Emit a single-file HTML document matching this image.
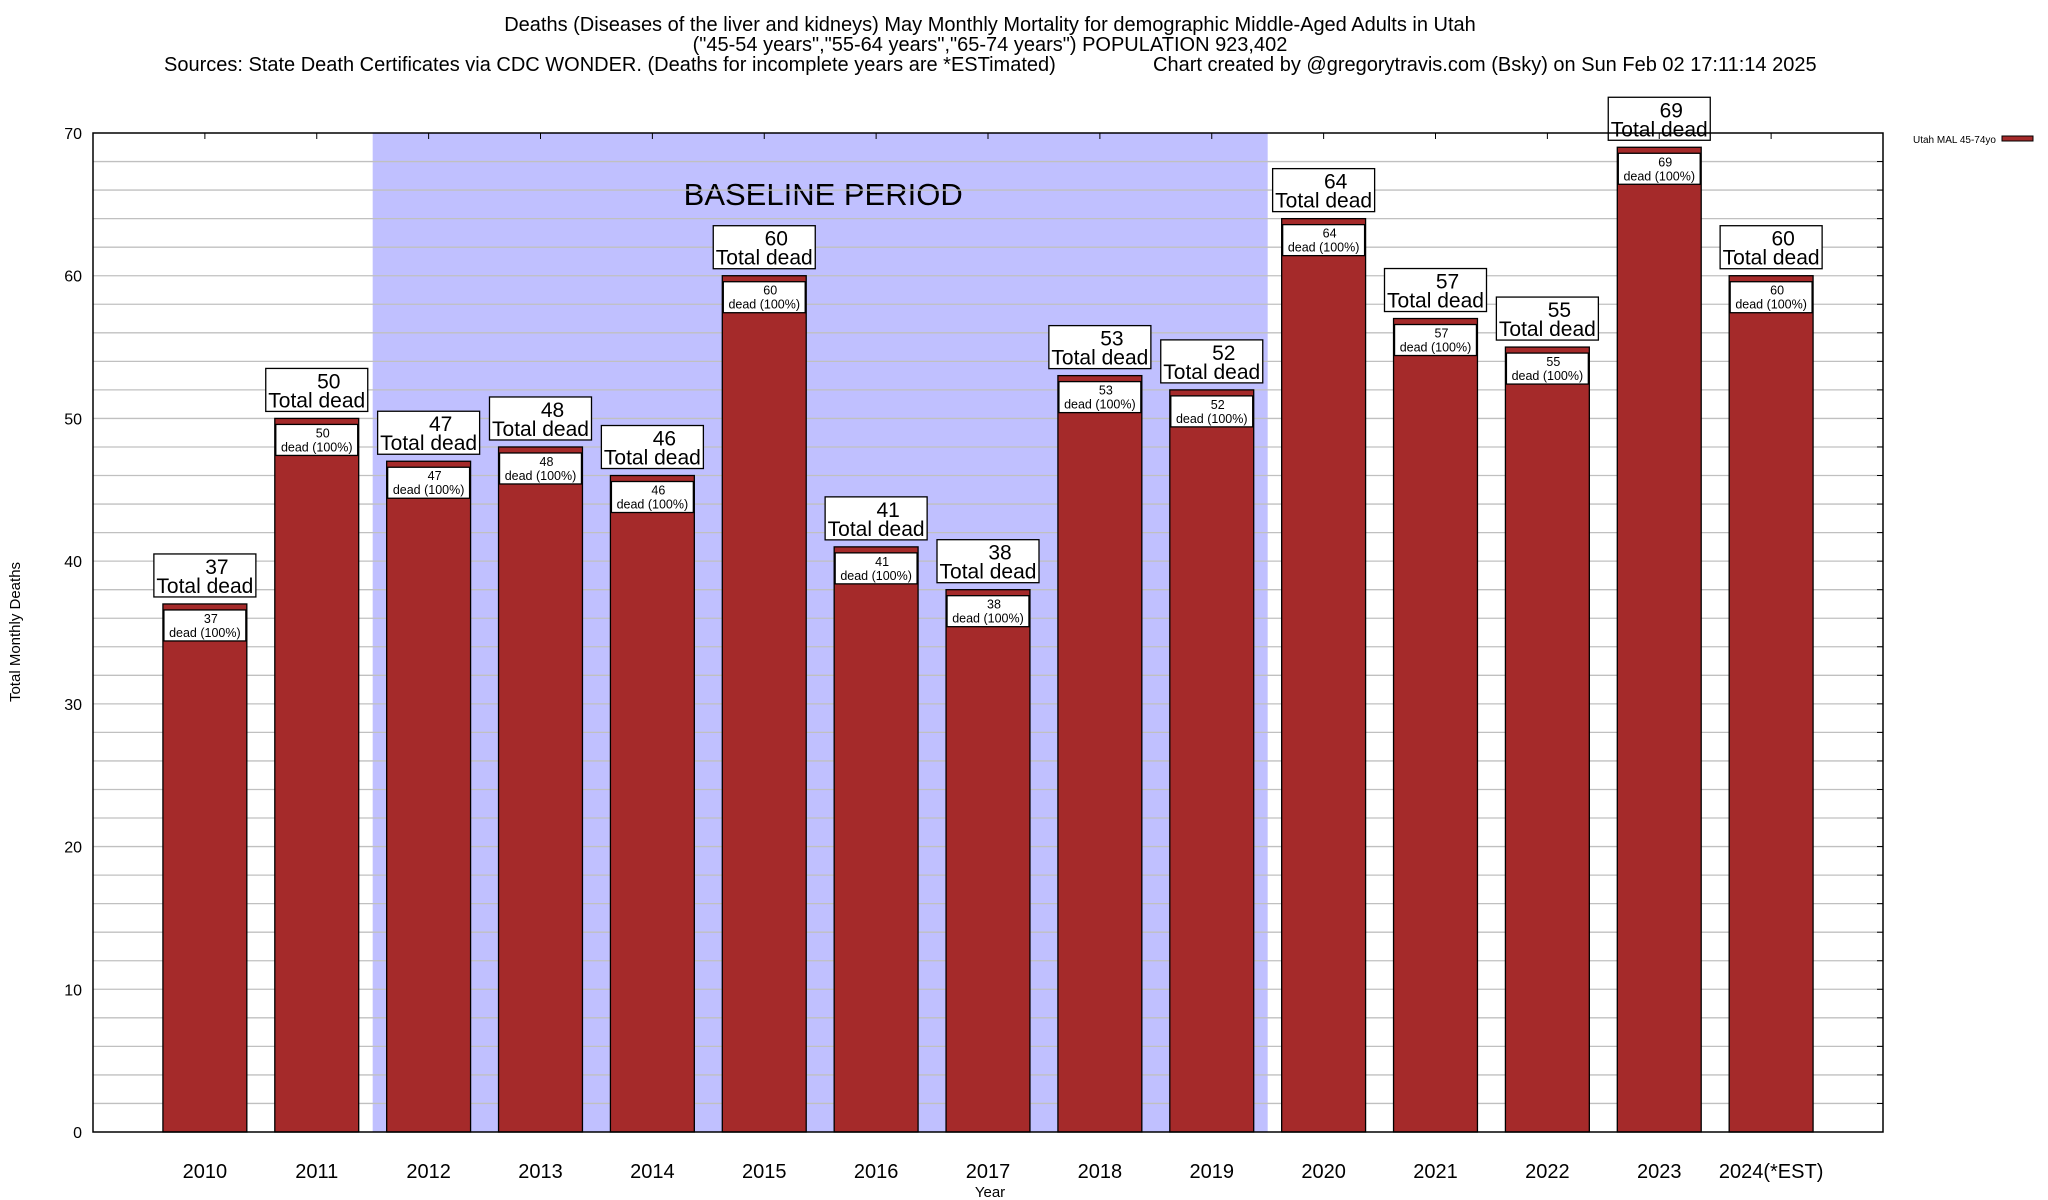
<!DOCTYPE html>
<html><head><meta charset="utf-8"><style>
html,body{margin:0;padding:0;background:#fff;}
svg{display:block;font-family:"Liberation Sans",Arial,sans-serif;}
</style></head><body>
<svg id="chart" width="2048" height="1200" viewBox="0 0 2048 1200" xmlns="http://www.w3.org/2000/svg">
<g font-size="20" text-anchor="middle" fill="#000">
<text x="990" y="31">Deaths (Diseases of the liver and kidneys) May Monthly Mortality for demographic Middle-Aged Adults in Utah</text>
<text x="990" y="51">("45-54 years","55-64 years","65-74 years") POPULATION 923,402</text>
<text x="164" y="71" text-anchor="start">Sources: State Death Certificates via CDC WONDER. (Deaths for incomplete years are *ESTimated)</text>
<text x="1153" y="71" text-anchor="start">Chart created by @gregorytravis.com (Bsky) on Sun Feb 02 17:11:14 2025</text>
</g>
<g id="shade"></g>
<g id="grid"></g>
<g id="bars"></g>
<g id="labels"></g>
<g id="axes"></g>
<text x="0" y="0" font-size="15" text-anchor="middle" transform="translate(20,632) rotate(-90)">Total Monthly Deaths</text>
<text x="990" y="1197" font-size="15" text-anchor="middle">Year</text>
<g>
<text x="1996" y="143" font-size="10" text-anchor="end">Utah MAL 45-74yo</text>
<rect x="2002" y="136" width="31" height="5" fill="#a52a2a" stroke="#000" stroke-width="1"/>
</g>
</svg>
<script>
const categories = ["2010","2011","2012","2013","2014","2015","2016","2017","2018","2019","2020","2021","2022","2023","2024(*EST)"];
const deaths = [37,50,47,48,46,60,41,38,53,52,64,57,55,69,60];
const yTicks = [0,10,20,30,40,50,60,70];
const baselineRange = ["2012","2019"];

const NS="http://www.w3.org/2000/svg";
const L=93,R=1883,T=133,B=1132,YMAX=70;
const slot=(R-L)/(categories.length+1);
const xC=i=>L+(i+1)*slot;
const yS=v=>B-(v/YMAX)*(B-T);
function mk(tag,attrs,parent,text){const e=document.createElementNS(NS,tag);for(const k in attrs)e.setAttribute(k,attrs[k]);if(text!==undefined)e.textContent=text;parent.appendChild(e);return e;}

const shade=document.getElementById('shade');
const i0=categories.indexOf(baselineRange[0]),i1=categories.indexOf(baselineRange[1]);
const sh=mk('rect',{x:xC(i0)-slot/2,y:T,width:(i1-i0+1)*slot,height:B-T,fill:'#c0c0ff'},shade);


const bt=mk('text',{x:(xC(i0)+xC(i1))/2+3,y:205,'font-size':31,'text-anchor':'middle'},shade,'BASELINE PERIOD');



const grid=document.getElementById('grid');
for(let v=2;v<YMAX;v+=2){
  const g=mk('line',{x1:L,x2:R,y1:yS(v),y2:yS(v),stroke:'#c0c0c0','stroke-width':1.3},grid);
  
  
  mk('line',{x1:R-6,x2:R,y1:yS(v),y2:yS(v),stroke:'#000'},grid);
}

const bars=document.getElementById('bars'),labels=document.getElementById('labels');
const bw=slot*0.75;
deaths.forEach((d,i)=>{
  const x=xC(i)-bw/2,y=yS(d);
  const b=mk('rect',{x:x,y:y,width:bw,height:B-y,fill:'#a52a2a',stroke:'#000','stroke-width':1.3},bars);
  
  
  const ib=mk('rect',{x:x+1,y:y+6,width:bw-2,height:31,fill:'#fff',stroke:'#000','stroke-width':1.3},labels);
  
  
  const it=mk('text',{x:xC(i),y:y+19,'font-size':12.5,'text-anchor':'middle'},labels);
  
  
  mk('tspan',{x:xC(i)+6},it,String(d));
  mk('tspan',{x:xC(i),dy:14},it,'dead (100%)');
  const bx=xC(i)-51,by=y-50;
  const ob=mk('rect',{x:bx,y:by,width:102,height:43,fill:'#fff',stroke:'#000','stroke-width':1.3},labels);
  
  
  const ot=mk('text',{'font-size':21,'text-anchor':'middle'},labels);
  
  
  mk('tspan',{x:xC(i)+12,y:by+20},ot,String(d));
  mk('tspan',{x:xC(i),y:by+39},ot,'Total dead');
  const xl=mk('text',{x:xC(i),y:1178,'font-size':20,'text-anchor':'middle'},labels,categories[i]);
  
  
  mk('line',{x1:xC(i),x2:xC(i),y1:T,y2:T+6,stroke:'#000'},labels);
});

const axes=document.getElementById('axes');
const fr=mk('rect',{x:L,y:T,width:R-L,height:B-T,fill:'none',stroke:'#000','stroke-width':1.5},axes);


yTicks.forEach(v=>{
  const t=mk('text',{x:82,y:yS(v)+6,'font-size':16,'text-anchor':'end'},axes,String(v));
  
  
});
</script>
</body></html>
